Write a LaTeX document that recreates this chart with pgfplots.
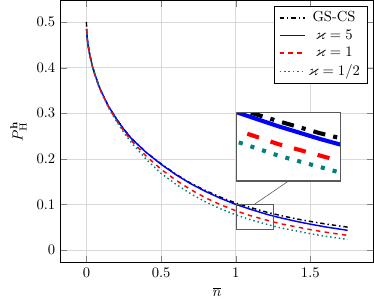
\documentclass[border=0pt]{standalone}
\usepackage{amssymb}
\usepackage{pgfplots}
\pgfplotsset{compat=1.18}
\usetikzlibrary{spy}
\begin{document}
\begin{tikzpicture}[spy using outlines={rectangle, draw=black!65, magnification=2.8, width=71.7pt, height=47.3pt}]
\begin{axis}[
  width=215pt, height=180pt, scale only axis,
  xmin=-0.175, xmax=1.925, ymin=-0.028, ymax=0.548,
  xtick={0,0.5,1,1.5}, ytick={0,0.1,0.2,0.3,0.4,0.5},
  grid=major, grid style={black!15},
  xlabel={$\overline{n}$}, ylabel={$P_{\mathrm{H}}^{\mathbf{h}}$},
  legend cell align=center,
  legend style={at={(0.98,0.98)}, anchor=north east},
]
\addplot[black, line width=1pt, dashdotted] coordinates {
(0,0.5)(0.001,0.486)(0.005,0.466)(0.01,0.452)(0.02,0.432)(0.04,0.403)(0.06,0.382)(0.08,0.363)(0.1,0.347)(0.15,0.314)(0.2,0.288)(0.25,0.265)(0.3,0.245)(0.4,0.214)(0.5,0.189)(0.6,0.166)(0.7,0.146)(0.8,0.130)(0.9,0.1155)(1.0,0.103)(1.1,0.093)(1.2,0.0835)(1.25,0.0795)(1.3,0.0755)(1.4,0.0685)(1.5,0.0625)(1.6,0.057)(1.75,0.050)};
\addlegendentry{GS-CS}
\addplot[blue, line width=1pt] coordinates {
(0.001,0.485)(0.005,0.466)(0.01,0.452)(0.02,0.432)(0.04,0.403)(0.06,0.382)(0.08,0.363)(0.1,0.347)(0.15,0.314)(0.2,0.288)(0.25,0.265)(0.3,0.245)(0.4,0.214)(0.5,0.188)(0.6,0.165)(0.7,0.145)(0.8,0.128)(0.9,0.113)(1.0,0.100)(1.1,0.089)(1.2,0.079)(1.25,0.0745)(1.3,0.0705)(1.4,0.063)(1.5,0.0565)(1.6,0.0505)(1.75,0.043)};
\addlegendentry{$\varkappa=5$}
\addplot[red, line width=1pt, dashed] coordinates {
(0.001,0.485)(0.005,0.465)(0.01,0.451)(0.02,0.431)(0.04,0.402)(0.06,0.381)(0.08,0.362)(0.1,0.346)(0.15,0.312)(0.2,0.285)(0.25,0.261)(0.3,0.240)(0.4,0.206)(0.5,0.177)(0.6,0.153)(0.7,0.132)(0.8,0.114)(0.9,0.099)(1.0,0.086)(1.1,0.075)(1.2,0.066)(1.25,0.0615)(1.3,0.0575)(1.4,0.051)(1.5,0.0445)(1.6,0.039)(1.75,0.032)};
\addlegendentry{$\varkappa=1$}
\addplot[teal, line width=1pt, dotted] coordinates {
(0.001,0.485)(0.005,0.465)(0.01,0.451)(0.02,0.431)(0.04,0.402)(0.06,0.381)(0.08,0.361)(0.1,0.345)(0.15,0.311)(0.2,0.283)(0.25,0.258)(0.3,0.236)(0.4,0.199)(0.5,0.168)(0.6,0.144)(0.7,0.123)(0.8,0.105)(0.9,0.090)(1.0,0.077)(1.1,0.066)(1.2,0.057)(1.25,0.0525)(1.3,0.0485)(1.4,0.042)(1.5,0.0355)(1.6,0.030)(1.75,0.023)};
\addlegendentry{$\varkappa=1/2$}
\coordinate (spypoint) at (axis cs:1.125,0.073);
\coordinate (glass) at (axis cs:1.354,0.2268);
\coordinate (bbsw) at (axis cs:-0.175,-0.028);
\end{axis}
\spy on (spypoint) in node[fill=white] at (glass);
\draw[black!65] ([yshift=8.45pt]spypoint) -- ([yshift=-23.65pt]glass);
\path ([xshift=-41.4pt,yshift=-28.6pt]bbsw);
\end{tikzpicture}
\end{document}
